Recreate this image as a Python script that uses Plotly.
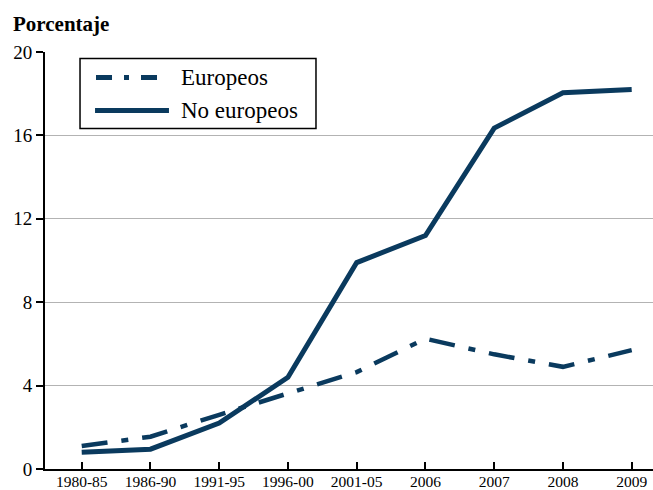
import plotly.graph_objects as go

categories = ["1980-85", "1986-90", "1991-95", "1996-00", "2001-05", "2006", "2007", "2008", "2009"]
europeos = [1.1, 1.55, 2.6, 3.65, 4.65, 6.25, 5.5, 4.9, 5.7]
no_europeos = [0.8, 0.95, 2.2, 4.4, 9.9, 11.2, 16.35, 18.05, 18.2]
y_ticks = [0, 4, 8, 12, 16, 20]
series_names = ["Europeos", "No europeos"]

color = "#0a3a5e"
font_family = "Liberation Serif, DejaVu Serif, serif"
dash_eu_plot = "26px,14px,7px,14px"
dash_eu_legend = "16px,12px,5px,12px"

fig = go.Figure()
fig.add_trace(go.Scatter(x=categories, y=europeos, mode="lines", name=series_names[0],
                         line=dict(color=color, width=4.5, dash=dash_eu_plot)))
fig.add_trace(go.Scatter(x=categories, y=no_europeos, mode="lines", name=series_names[1],
                         line=dict(color=color, width=5)))

# legend drawn as a framed box (paper coordinates of the plot area)
shapes = [
    dict(type="rect", xref="paper", yref="paper", x0=0.0576, x1=0.4457, y0=0.8163, y1=0.9844,
         line=dict(color="black", width=1.5), fillcolor="white", layer="above"),
    dict(type="line", xref="paper", yref="paper", x0=0.0839, x1=0.189, y0=0.9388, y1=0.9388,
         line=dict(color=color, width=5, dash=dash_eu_legend), layer="above"),
    dict(type="line", xref="paper", yref="paper", x0=0.0823, x1=0.2039, y0=0.8595, y1=0.8595,
         line=dict(color=color, width=5), layer="above"),
]
annotations = [
    dict(text="<b>Porcentaje</b>", xref="paper", yref="paper", x=-0.056, y=1.1,
         xanchor="left", yanchor="top", showarrow=False,
         font=dict(size=21, family=font_family, color="black")),
    dict(text=series_names[0], xref="paper", yref="paper", x=0.2204, y=0.9388,
         xanchor="left", yanchor="middle", showarrow=False,
         font=dict(size=23, family=font_family, color="black")),
    dict(text=series_names[1], xref="paper", yref="paper", x=0.2204, y=0.8595,
         xanchor="left", yanchor="middle", showarrow=False,
         font=dict(size=23, family=font_family, color="black")),
]

fig.update_layout(
    width=653, height=490,
    margin=dict(l=45, r=0, t=52, b=21),
    paper_bgcolor="white", plot_bgcolor="white",
    font=dict(family=font_family, size=16, color="black"),
    showlegend=False,
    shapes=shapes,
    annotations=annotations,
    xaxis=dict(type="category", range=[-0.534, 8.31], showgrid=False,
               showline=True, linecolor="black", linewidth=2,
               ticks="inside", ticklen=7, tickwidth=2, tickcolor="black",
               tickfont=dict(size=15.5), ticklabelstandoff=-3,
               zeroline=False, automargin=False),
    yaxis=dict(range=[0, 20], tickvals=y_ticks, showgrid=True, gridcolor="#b3b3b3",
               gridwidth=1.2, showline=True, linecolor="black", linewidth=2,
               ticks="outside", ticklen=7, tickwidth=2, tickcolor="black",
               tickfont=dict(size=19), zeroline=False, automargin=False),
)

fig.write_html("out.html", config={"displayModeBar": False},
               post_script="document.body.style.margin='0';document.body.style.overflow='hidden';")
